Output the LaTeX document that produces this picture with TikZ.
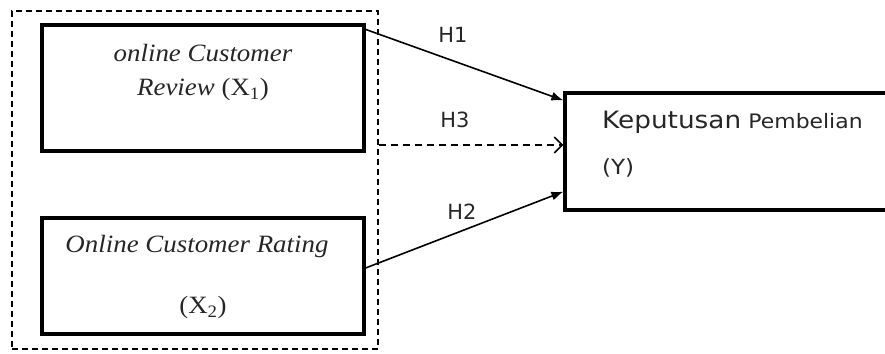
\documentclass[tikz,border=0pt]{standalone}
\usepackage{fontspec}
\usepackage{graphicx}
\setmainfont{Liberation Serif}
\newfontfamily\verdfont{DejaVu Sans}
\usetikzlibrary{arrows.meta}
\newcommand{\widen}[2]{\scalebox{#1}[1]{#2}}

\begin{document}
\begin{tikzpicture}[x=1bp, y=-1bp, >={Latex[length=12bp,width=9bp]},
    box/.style={draw, line width=3.2bp, inner sep=0pt},
    grpbox/.style={draw, line width=1.6bp, dash pattern=on 6bp off 4bp, inner sep=0pt},
    serif/.style={inner sep=0pt, text=black!85, font=\fontsize{25}{29}\selectfont},
    sans/.style={inner sep=0pt, text=black!85, font=\verdfont\fontsize{21}{25}\selectfont}]
    \useasboundingbox (0,0) rectangle (885,353);
    % Group of independent variables
    \node[grpbox, minimum width=366bp, minimum height=338bp] (grp) at (195,180) {};
    % Boxes
    \node[box, minimum width=322bp, minimum height=126bp] (rev) at (203,88) {};
    \node[box, minimum width=322bp, minimum height=116bp] (rat) at (203,276) {};
    \node[box, minimum width=380bp, minimum height=117bp] (kep) at (755,151.5) {};
    % Texts
    \node[serif] (revA) at (203,53) {\widen{1.08}{\textit{online Customer}}};
    \node[serif] (revB) at (203,90) {\widen{1.08}{\textit{Review} (X\textsubscript{1})}};
    \node[serif] (ratA) at (197,247) {\widen{1.08}{\textit{Online Customer Rating}}};
    \node[serif] (ratB) at (203,308) {\widen{1.08}{(X\textsubscript{2})}};
    \node[sans, anchor=west] (kepA) at (602,122)
        {\widen{1.1}{{\fontsize{24}{28}\selectfont Keputusan} {\fontsize{20}{24}\selectfont Pembelian}}};
    \node[sans, anchor=west] (kepB) at (602,168) {\widen{1.1}{(Y)}};
    % Hypotheses
    \coordinate (h3end) at ([yshift=6.5bp]kep.west);
    \draw[->, line width=1.6bp] ([yshift=-6bp]rev.north east) -- ([yshift=-9bp]kep.north west);
    \draw[->, line width=1.6bp] ([yshift=8bp]rat.east) -- ([yshift=20bp]kep.south west);
    \draw[-{Straight Barb[length=8bp,width=16bp]}, line width=1.6bp, dash pattern=on 7bp off 5bp]
        (grp.east |- h3end) -- (h3end);
    \node[sans] (h1) at (453,35) {H1};
    \node[sans] (h3) at (455,120) {H3};
    \node[sans] (h2) at (462,212) {H2};
\end{tikzpicture}
\end{document}
